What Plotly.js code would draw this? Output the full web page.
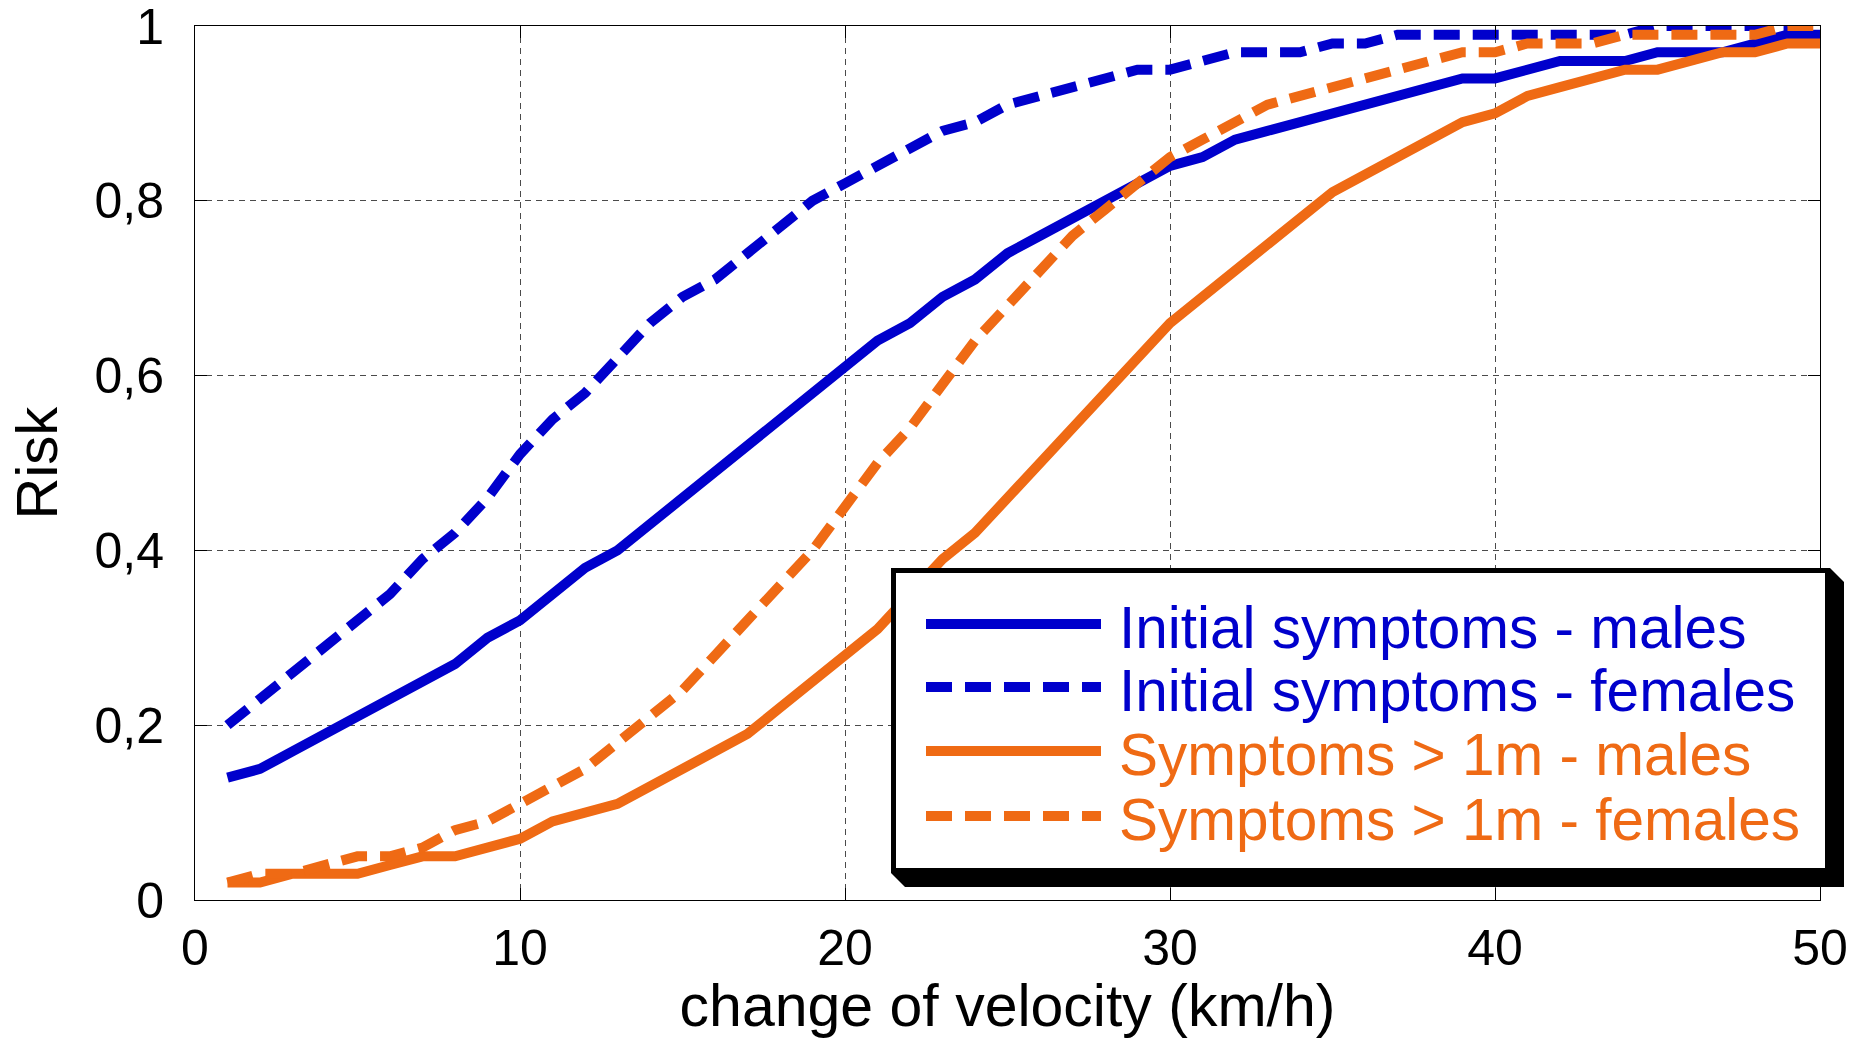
<!DOCTYPE html>
<html>
<head>
<meta charset="utf-8">
<script src="https://cdn.plot.ly/plotly-3.0.1.min.js"></script>
<style>
  html, body { margin: 0; padding: 0; background: #ffffff; }
  #chart { width: 1857px; height: 1039px; }
</style>
</head>
<body>
<div id="chart"></div>
<script>
// Change of velocity (km/h)
const velocity = [1, 2, 3, 4, 5, 6, 7, 8, 9, 10,
  11, 12, 13, 14, 15, 16, 17, 18, 19, 20,
  21, 22, 23, 24, 25, 26, 27, 28, 29, 30,
  31, 32, 33, 34, 35, 36, 37, 38, 39, 40,
  41, 42, 43, 44, 45, 46, 47, 48, 49, 50];

// Risk of initial symptoms
const initialMales = [0.14, 0.15, 0.17, 0.19, 0.21, 0.23, 0.25, 0.27, 0.30, 0.32,
  0.35, 0.38, 0.40, 0.43, 0.46, 0.49, 0.52, 0.55, 0.58, 0.61,
  0.64, 0.66, 0.69, 0.71, 0.74, 0.76, 0.78, 0.80, 0.82, 0.84,
  0.85, 0.87, 0.88, 0.89, 0.90, 0.91, 0.92, 0.93, 0.94, 0.94,
  0.95, 0.96, 0.96, 0.96, 0.97, 0.97, 0.97, 0.98, 0.99, 0.99];

const initialFemales = [0.20, 0.23, 0.26, 0.29, 0.32, 0.35, 0.39, 0.42, 0.46, 0.51,
  0.55, 0.58, 0.62, 0.66, 0.69, 0.71, 0.74, 0.77, 0.80, 0.82,
  0.84, 0.86, 0.88, 0.89, 0.91, 0.92, 0.93, 0.94, 0.95, 0.95,
  0.96, 0.97, 0.97, 0.97, 0.98, 0.98, 0.99, 0.99, 0.99, 0.99,
  0.99, 0.99, 0.99, 0.99, 1.00, 1.00, 1.00, 1.00, 1.00, 1.00];

// Risk of symptoms lasting more than one month
const longMales = [0.02, 0.02, 0.03, 0.03, 0.03, 0.04, 0.05, 0.05, 0.06, 0.07,
  0.09, 0.10, 0.11, 0.13, 0.15, 0.17, 0.19, 0.22, 0.25, 0.28,
  0.31, 0.35, 0.39, 0.42, 0.46, 0.50, 0.54, 0.58, 0.62, 0.66,
  0.69, 0.72, 0.75, 0.78, 0.81, 0.83, 0.85, 0.87, 0.89, 0.90,
  0.92, 0.93, 0.94, 0.95, 0.95, 0.96, 0.97, 0.97, 0.98, 0.98];

const longFemales = [0.02, 0.03, 0.03, 0.04, 0.05, 0.05, 0.06, 0.08, 0.09, 0.11,
  0.13, 0.15, 0.18, 0.21, 0.24, 0.28, 0.32, 0.36, 0.40, 0.45,
  0.50, 0.54, 0.59, 0.64, 0.68, 0.72, 0.76, 0.79, 0.82, 0.85,
  0.87, 0.89, 0.91, 0.92, 0.93, 0.94, 0.95, 0.96, 0.97, 0.97,
  0.98, 0.98, 0.98, 0.99, 0.99, 0.99, 0.99, 0.99, 1.00, 1.00];

const seriesNames = [
  'Initial symptoms - males',
  'Initial symptoms - females',
  'Symptoms > 1m - males',
  'Symptoms > 1m - females'
];

const xTickVals = [0, 10, 20, 30, 40, 50];
const xTickLabels = ['0', '10', '20', '30', '40', '50'];
const yTickVals = [0, 0.2, 0.4, 0.6, 0.8, 1];
const yTickLabels = ['0', '0,2', '0,4', '0,6', '0,8', '1'];

const BLUE = '#0000CC';
const ORANGE = '#EF6A14';
const LINE_W = 10;
const DASH = '26px,13px';
const FONT = 'Liberation Sans, Arial, Helvetica, sans-serif';

const seriesStyle = [
  { y: initialMales,   color: BLUE,   dash: 'solid' },
  { y: initialFemales, color: BLUE,   dash: DASH },
  { y: longMales,      color: ORANGE, dash: 'solid' },
  { y: longFemales,    color: ORANGE, dash: DASH }
];

// Plot area geometry in pixels
const W = 1857, H = 1039;
const M = { l: 195, r: 37, t: 26, b: 139 };
const plotW = W - M.l - M.r;
const plotH = H - M.t - M.b;
const px = v => (v - M.l) / plotW;          // pixel x -> paper x
const py = v => (H - M.b - v) / plotH;      // pixel y -> paper y

const traces = seriesStyle.map((s, i) => ({
  type: 'scatter',
  mode: 'lines',
  x: velocity,
  y: s.y,
  name: seriesNames[i],
  line: { color: s.color, width: LINE_W, dash: s.dash },
  cliponaxis: false,
  showlegend: false
}));

// Boxed legend with a drop shadow
const box = { x0: 891, x1: 1830, y0: 568, y1: 873 };
const shadow = 14;
const rowY = [624, 687, 751, 816];
const sampleX = [926, 1101];
const textX = 1117;

const shapes = [];
shapes.push({
  type: 'path', xref: 'paper', yref: 'paper', layer: 'above',
  path: 'M ' + px(box.x0) + ' ' + py(box.y1) +
        ' L ' + px(box.x0 + shadow) + ' ' + py(box.y1 + shadow) +
        ' L ' + px(box.x1 + shadow) + ' ' + py(box.y1 + shadow) +
        ' L ' + px(box.x1 + shadow) + ' ' + py(box.y0 + shadow) +
        ' L ' + px(box.x1) + ' ' + py(box.y0) + ' Z',
  fillcolor: '#000000', line: { width: 0 }
});
shapes.push({
  type: 'rect', xref: 'paper', yref: 'paper', layer: 'above',
  x0: px(box.x0 + 2.5), x1: px(box.x1 - 2.5),
  y0: py(box.y0 + 2.5), y1: py(box.y1 - 2.5),
  fillcolor: '#ffffff', line: { color: '#000000', width: 5 }
});
seriesStyle.forEach((s, i) => {
  shapes.push({
    type: 'line', xref: 'paper', yref: 'paper', layer: 'above',
    x0: px(sampleX[0]), x1: px(sampleX[1]),
    y0: py(rowY[i]), y1: py(rowY[i]),
    line: { color: s.color, width: LINE_W, dash: s.dash }
  });
});

const annotations = seriesStyle.map((s, i) => ({
  xref: 'paper', yref: 'paper',
  x: px(textX), y: py(rowY[i] + 3),
  xanchor: 'left', yanchor: 'middle',
  text: seriesNames[i],
  showarrow: false,
  font: { family: FONT, size: 58.5, color: s.color }
}));

const axisCommon = {
  showgrid: true,
  gridcolor: '#4a4a4a',
  gridwidth: 1,
  griddash: '6px,5px',
  zeroline: false,
  showline: true,
  linecolor: '#000000',
  linewidth: 1,
  mirror: 'ticks',
  ticks: 'inside',
  ticklen: 12,
  tickwidth: 1,
  tickcolor: '#000000',
  tickmode: 'array',
  ticklabeloverflow: 'allow',
  tickfont: { family: FONT, size: 50, color: '#000000' },
  fixedrange: true
};

const layout = {
  width: W,
  height: H,
  margin: M,
  paper_bgcolor: '#ffffff',
  plot_bgcolor: '#ffffff',
  font: { family: FONT, color: '#000000' },
  showlegend: false,
  xaxis: Object.assign({}, axisCommon, {
    range: [0, 50],
    tickvals: xTickVals,
    ticktext: xTickLabels,
    ticklabelstandoff: 4,
    title: { text: 'change of velocity (km/h)', font: { family: FONT, size: 59 }, standoff: 18 }
  }),
  yaxis: Object.assign({}, axisCommon, {
    range: [0, 1],
    tickvals: yTickVals,
    ticktext: yTickLabels,
    ticklabelstandoff: 20,
    title: { text: 'Risk', font: { family: FONT, size: 58 }, standoff: 18 }
  }),
  shapes: shapes,
  annotations: annotations
};

Plotly.newPlot('chart', traces, layout, { staticPlot: true, displayModeBar: false });
</script>
</body>
</html>
